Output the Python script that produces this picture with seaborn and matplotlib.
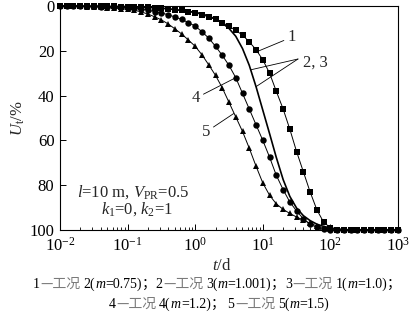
import numpy as np
import pandas as pd
import matplotlib
matplotlib.use("Agg")
import matplotlib.pyplot as plt
import seaborn as sns
from matplotlib.ticker import FixedLocator, LogLocator, NullFormatter

# Time (d), 10 samples per decade from 1e-2 to 1e3
T_DAYS = [0.01, 0.0126, 0.0158, 0.02, 0.0251, 0.0316, 0.0398, 0.0501, 0.0631, 0.0794,
          0.1, 0.126, 0.158, 0.2, 0.251, 0.316, 0.398, 0.501, 0.631, 0.794,
          1, 1.26, 1.58, 2, 2.51, 3.16, 3.98, 5.01, 6.31, 7.94,
          10, 12.6, 15.8, 20, 25.1, 31.6, 39.8, 50.1, 63.1, 79.4,
          100, 126, 158, 200, 251, 316, 398, 501, 631, 794, 1000]

# Degree of consolidation U_t (%)
U_CURVE1 = [0.0, 0.0, 0.0, 0.1, 0.1, 0.1, 0.1, 0.2, 0.2, 0.3,
            0.3, 0.4, 0.5, 0.6, 0.7, 0.9, 1.2, 1.6, 2.0, 2.5,
            3.0, 3.9, 4.9, 6.0, 7.4, 9.0, 10.9, 13.0, 16.0, 19.5,
            24.0, 30.0, 38.0, 46.0, 55.0, 65.0, 74.0, 83.0, 91.0, 96.5,
            99.0, 99.8, 100, 100, 100, 100, 100, 100, 100, 100, 100]
U_CURVE23 = [0.0, 0.0, 0.0, 0.0, 0.1, 0.1, 0.1, 0.2, 0.2, 0.2,
             0.3, 0.4, 0.5, 0.6, 0.8, 1.0, 1.3, 1.6, 2.0, 2.4,
             2.8, 3.5, 4.5, 5.8, 7.6, 10.0, 13.5, 19.0, 26.5, 36.0,
             46.5, 57.0, 67.5, 77.5, 85.0, 90.2, 93.6, 95.8, 97.4, 98.4,
             99.1, 99.5, 99.8, 100, 100, 100, 100, 100, 100, 100, 100]
U_CURVE4 = [0.0, 0.0, 0.1, 0.1, 0.2, 0.2, 0.3, 0.4, 0.5, 0.6,
            0.8, 1.0, 1.4, 1.9, 2.5, 3.1, 3.9, 4.9, 6.0, 7.4,
            9.0, 11.5, 14.3, 18.0, 22.0, 26.5, 32.0, 39.0, 46.0, 53.0,
            60.0, 67.5, 75.5, 82.0, 87.5, 91.5, 95.0, 97.5, 98.8, 99.4,
            99.8, 100, 100, 100, 100, 100, 100, 100, 100, 100, 100]
U_CURVE5 = [0.0, 0.1, 0.1, 0.2, 0.3, 0.4, 0.5, 0.7, 0.9, 1.2,
            1.5, 1.9, 2.6, 3.6, 4.8, 6.2, 8.0, 10.2, 12.5, 15.2,
            18.0, 21.8, 26.2, 31.0, 36.5, 43.0, 49.5, 56.0, 63.5, 71.5,
            79.0, 84.5, 88.3, 90.8, 92.6, 94.2, 95.6, 97.0, 98.2, 99.0,
            99.5, 99.8, 100, 100, 100, 100, 100, 100, 100, 100, 100]

X_TICKS = [1e-2, 1e-1, 1e0, 1e1, 1e2, 1e3]
Y_TICKS = [0, 20, 40, 60, 80, 100]

sns.set_style("ticks")
plt.rcParams.update({
    "font.family": ["Liberation Serif", "Noto Sans CJK SC"],
    "mathtext.fontset": "custom",
    "mathtext.rm": "Liberation Serif",
    "mathtext.it": "Liberation Serif:italic",
    "mathtext.bf": "Liberation Serif:bold",
    "axes.linewidth": 0.8,
    "axes.edgecolor": "black",
    "xtick.direction": "in",
    "ytick.direction": "in",
    "xtick.color": "black",
    "ytick.color": "black",
})

df = pd.concat([
    pd.DataFrame({"t": T_DAYS, "U": U_CURVE1, "curve": "1"}),
    pd.DataFrame({"t": T_DAYS, "U": U_CURVE23, "curve": "2,3"}),
    pd.DataFrame({"t": T_DAYS, "U": U_CURVE4, "curve": "4"}),
    pd.DataFrame({"t": T_DAYS, "U": U_CURVE5, "curve": "5"}),
], ignore_index=True)

W, H = 410, 324
fig = plt.figure(figsize=(W / 100, H / 100), dpi=100)
ax = fig.add_axes([60 / W, 1 - 230 / H, 338 / W, 224 / H])

styles = {
    "1": dict(marker="s", markersize=4.3, lw=0.7),
    "2,3": dict(marker=None, lw=1.2),
    "4": dict(marker="o", markersize=4.6, lw=0.7),
    "5": dict(marker="^", markersize=5.0, lw=0.7),
}
for name, kw in styles.items():
    sns.lineplot(data=df[df["curve"] == name], x="t", y="U", ax=ax,
                 color="black", markeredgewidth=0, clip_on=False,
                 estimator=None, sort=False, legend=False, zorder=3, **kw)

ax.set_xscale("log")
ax.set_xlim(1e-2, 1e3)
ax.set_ylim(100, 0)
ax.xaxis.set_major_locator(FixedLocator(X_TICKS))
ax.xaxis.set_minor_locator(LogLocator(base=10, subs=np.arange(2, 10), numticks=20))
ax.xaxis.set_minor_formatter(NullFormatter())
ax.yaxis.set_major_locator(FixedLocator(Y_TICKS))
ax.tick_params(axis="both", which="major", length=4, width=0.7, labelsize=12)
ax.tick_params(axis="x", which="major", pad=5)
ax.tick_params(axis="y", which="major", pad=4)
ax.tick_params(axis="x", which="minor", length=2.5, width=0.6)
for s in ["top", "right"]:
    ax.spines[s].set_visible(True)
ax.set_xlabel("")
ax.set_ylabel("")

fig.text(18 / W, 1 - 118 / H, r"$U_{\mathrm{t}}$/%", rotation=90, fontsize=12,
         ha="center", va="center")
fig.text(222 / W, 1 - 266 / H, r"$t$/d", fontsize=12, ha="center", va="center")

# Parameter block
ax.text(10 ** ((133 - 60) / 67.6 - 2), (192 - 6) / 2.24,
        r"$l$=10 m, $V_{\mathrm{PR}}$=0.5", fontsize=12, ha="center", va="center")
ax.text(10 ** ((137 - 60) / 67.6 - 2), (209 - 6) / 2.24,
        r"$k_1$=0, $k_2$=1", fontsize=12, ha="center", va="center")

line_kw = dict(arrowstyle="-", color="black", lw=0.6, shrinkA=0, shrinkB=0)
ax.annotate("1", xy=(10 ** 0.92, 20.3), xytext=(10 ** 1.36, 14.0),
            fontsize=12, ha="left", va="center", arrowprops=line_kw)
ax.text(10 ** ((303 - 60) / 67.6 - 2), (63 - 6) / 2.24, "2, 3",
        fontsize=12, ha="left", va="center")
src23 = (10 ** ((298 - 60) / 67.6 - 2), (59 - 6) / 2.24)
ax.annotate("", xy=(10 ** 0.82, 28.5), xytext=src23, arrowprops=line_kw)
ax.annotate("", xy=(10 ** 0.90, 36.0), xytext=src23, arrowprops=line_kw)
ax.annotate("4", xy=(10 ** 0.60, 32.0), xytext=(10 ** ((196 - 60) / 67.6 - 2), (98 - 6) / 2.24),
            fontsize=12, ha="center", va="center", arrowprops=line_kw)
ax.annotate("5", xy=(10 ** 0.57, 48.0), xytext=(10 ** ((206 - 60) / 67.6 - 2), (132 - 6) / 2.24),
            fontsize=12, ha="center", va="center", arrowprops=line_kw)

# Caption built from runs with individual fonts and colours
SERIF = ["Liberation Serif"]
CJK = ["Noto Sans CJK SC", "DejaVu Sans"]
GRAY = "#7a7a7a"
CAP_FS = 10


def caption_line(items, y_px, cx_px):
    renderer = fig.canvas.get_renderer()
    texts, widths = [], []
    for it in items:
        if isinstance(it, (int, float)):
            texts.append(None)
            widths.append(it)
            continue
        s, fam, color, style = it
        t = fig.text(0, 1 - y_px / H, s, fontsize=CAP_FS, family=fam, color=color,
                     style=style, ha="left", va="baseline")
        texts.append(t)
        widths.append(t.get_window_extent(renderer).width)
    x = cx_px - sum(widths) / 2
    for t, w in zip(texts, widths):
        if t is not None:
            t.set_x(x / W)
        x += w


def case(num, case_no, m):
    return [(num, SERIF, "black", "normal"), 0.5, ("—工况", CJK, GRAY, "normal"), 3,
            (f"{case_no}(", SERIF, "black", "normal"), ("m", SERIF, "black", "italic"),
            (f"={m})", SERIF, "black", "normal")]


semi = [("；", CJK, "black", "normal")]
line1 = case("1", "2", "0.75") + semi + case("2", "3", "1.001") + semi + case("3", "1", "1.0") + semi
line2 = case("4", "4", "1.2") + semi + [3] + case("5", "5", "1.5")
caption_line(line1, 288, 217)
caption_line(line2, 308, 219)

fig.savefig("out.png", dpi=100)
